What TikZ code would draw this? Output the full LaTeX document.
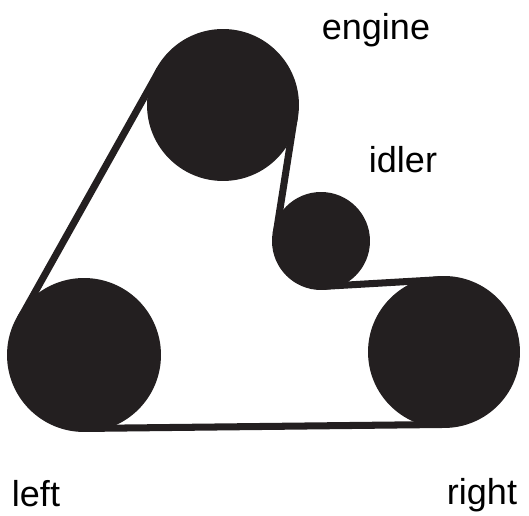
\documentclass[tikz,border=0pt]{standalone}
\usepackage{fontspec}
\setmainfont{Liberation Sans}
\definecolor{pulleyblack}{RGB}{35,31,32}
\begin{document}
\begin{tikzpicture}[x=0.02cm,y=-0.02cm,
  pulley/.style={circle,fill=pulleyblack,inner sep=0pt,outer sep=-2pt},
  belt/.style={draw=pulleyblack,line width=4pt},
  lbl/.style={anchor=base,font=\fontsize{20.5}{24}\selectfont}]
 \useasboundingbox (0,0) rectangle (529,516);
 % pulleys
 \node[pulley,minimum size=3.04cm] (engine) at (223,105) {};
 \node[pulley,minimum size=1.96cm] (idler) at (321,241) {};
 \node[pulley,minimum size=3.08cm] (left) at (84,355) {};
 \node[pulley,minimum size=3.04cm] (right) at (444,352) {};
 % belt
 \draw[belt] (left.150.9)--(engine.150.9);
 \draw[belt] (engine.-9)--(idler.171);
 \draw[belt] (idler.-86.2)--(right.93.8);
 \draw[belt] (left.-89.5)--(right.-89.5);
 % labels
 \node[lbl] (enginelbl) at (376,40) {engine};
 \node[lbl] (idlerlbl) at (403,173) {idler};
 \node[lbl] (leftlbl) at (36,507) {left};
 \node[lbl] (rightlbl) at (482,505) {right};
\end{tikzpicture}
\end{document}
